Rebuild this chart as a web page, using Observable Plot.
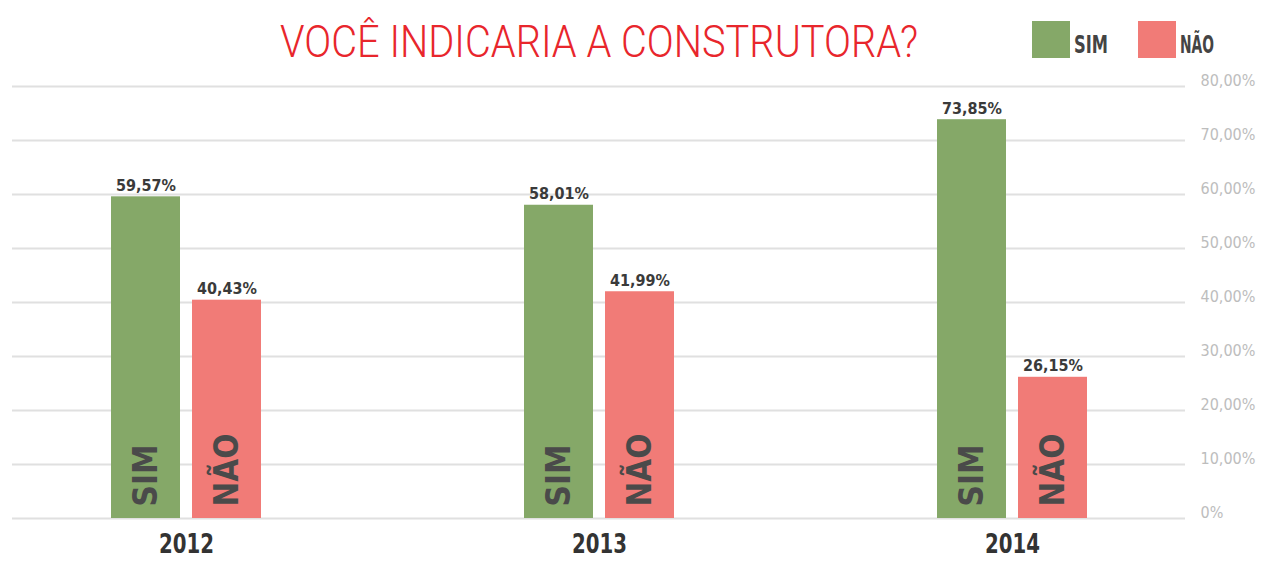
<!DOCTYPE html>
<html><head><meta charset="utf-8">
<script src="https://cdn.jsdelivr.net/npm/d3@7"></script>
<script src="https://cdn.jsdelivr.net/npm/@observablehq/plot@0.6"></script>
<style>
html,body{margin:0;padding:0;background:#fff;}
#wrap{position:relative;width:1268px;height:561px;overflow:hidden;}
#chart{position:absolute;left:0;top:0;}
#head{position:absolute;left:0;top:0;}
</style></head><body>
<div id="wrap"><div id="chart"></div><svg id="head" width="1268" height="80"></svg></div>
<script>
const years = ["2012", "2013", "2014"];
const series = ["SIM", "NÃO"];
const sim = [59.57, 58.01, 73.85];
const nao = [40.43, 41.99, 26.15];
const colors = ["#85a868", "#f17b77"];
const yTicks = [0, 10, 20, 30, 40, 50, 60, 70, 80];
const title = "VOCÊ INDICARIA A CONSTRUTORA?";

const simData = years.map((y, i) => ({year: y, series: series[0], value: sim[i]}));
const naoData = years.map((y, i) => ({year: y, series: series[1], value: nao[i]}));
const fmt = v => v.toFixed(2).replace(".", ",") + "%";
const tickFmt = v => v === 0 ? "0%" : fmt(v);
const FONT = '"Liberation Sans Narrow","DejaVu Sans Condensed","DejaVu Sans",sans-serif';

const plot = Plot.plot({
  width: 1268, height: 561,
  marginTop: 86, marginBottom: 43, marginLeft: 12, marginRight: 83,
  style: {fontFamily: FONT, background: "transparent"},
  x: {domain: years, paddingInner: 0.638, paddingOuter: 0.2374, label: null},
  y: {domain: [0, 80], label: null},
  color: {domain: series, range: colors},
  marks: [
    Plot.gridY(yTicks, {stroke: "#e0e0e0", strokeOpacity: 1, strokeWidth: 2}),
    Plot.barY(simData, {x: "year", y: "value", fill: "series", insetRight: 81}),
    Plot.barY(naoData, {x: "year", y: "value", fill: "series", insetLeft: 81}),
    Plot.text(simData, {x: "year", y: "value", text: d => fmt(d.value), dx: -40.5, dy: -6, lineAnchor: "bottom", fontSize: 16, fontWeight: "bold", fill: "#3a3a3a", ariaLabel: "vals"}),
    Plot.text(naoData, {x: "year", y: "value", text: d => fmt(d.value), dx: 40.5, dy: -6, lineAnchor: "bottom", fontSize: 16, fontWeight: "bold", fill: "#3a3a3a", ariaLabel: "vals"}),
    Plot.text(simData, {x: "year", y: 0, text: "series", rotate: -90, textAnchor: "start", lineAnchor: "middle", dx: -40.5, dy: -12, fontSize: 33, fontWeight: "bold", fill: "#4a4a4a", ariaLabel: "names"}),
    Plot.text(naoData, {x: "year", y: 0, text: "series", rotate: -90, textAnchor: "start", lineAnchor: "middle", dx: 40.5, dy: -12, fontSize: 33, fontWeight: "bold", fill: "#4a4a4a", ariaLabel: "names"}),
    Plot.axisY(yTicks, {anchor: "right", tickSize: 0, tickPadding: 15, textAnchor: "start", tickFormat: tickFmt, fill: "#bdbdbd", fontSize: 16, dy: -6}),
    Plot.axisX({tickSize: 0, tickPadding: 16, fontSize: 26, fontWeight: "bold", fill: "#333"})
  ]
});
document.getElementById("chart").appendChild(plot);

const s = d3.select(plot);
s.selectAll('g[aria-label="x-axis tick label"] text').attr("textLength", 55).attr("lengthAdjust", "spacingAndGlyphs");
s.selectAll('g[aria-label="vals"] text').attr("textLength", 58).attr("lengthAdjust", "spacingAndGlyphs");
s.selectAll('g[aria-label="names"] text').each(function() {
  d3.select(this).attr("textLength", this.textContent === series[0] ? 48 : 54).attr("lengthAdjust", "spacingAndGlyphs");
});

const head = d3.select("#head");
head.append("text").attr("x", 599).attr("y", 57).attr("text-anchor", "middle")
  .attr("font-family", "Roboto, sans-serif").attr("font-weight", 300).attr("font-size", 45)
  .attr("fill", "#e8262c").attr("textLength", 638).attr("lengthAdjust", "spacingAndGlyphs").text(title);
const lx = [1032, 1138];
series.forEach((name, i) => {
  head.append("rect").attr("x", lx[i]).attr("y", 21).attr("width", 38).attr("height", 37).attr("fill", colors[i]);
  head.append("text").attr("x", lx[i] + 42).attr("y", 53).attr("font-family", FONT).attr("font-weight", "bold")
    .attr("font-size", 24).attr("fill", "#444").attr("textLength", 34).attr("lengthAdjust", "spacingAndGlyphs").text(name);
});
</script>
</body></html>
